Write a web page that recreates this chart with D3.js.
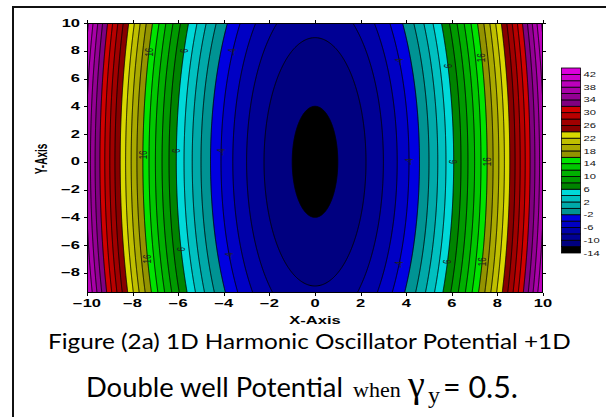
<!DOCTYPE html>
<html>
<head>
<meta charset="utf-8">
<script src="https://cdn.jsdelivr.net/npm/d3@7"></script>
<style>
  body { margin: 0; background: #ffffff; }
  svg { display: block; }
</style>
</head>
<body>
<svg id="chart" width="606" height="417"></svg>
<script>
// ---- Potential surface: V(x, y) = kx * x^2 + ky * y^2 + v0 ----
const potentialCoefficients = [0.5, 1 / 32];   // [kx, ky]
const potentialOffset = [-12.5];                 // v0 (well bottom)

// ---- Axes ----
const xDomain = [-10, 10];
const yDomain = [-9.45, 10];
const xTicks = [-10, -8, -6, -4, -2, 0, 2, 4, 6, 8, 10];
const yTicks = [-8, -6, -4, -2, 0, 2, 4, 6, 8, 10];

// ---- Contour levels (lower edge of each colour band) and band colours ----
const levels = [-14, -12, -10, -8, -6, -4, -2, 0, 2, 4, 6, 8, 10, 12, 14,
                16, 18, 20, 22, 24, 26, 28, 30, 32, 34, 36, 38, 40, 42];
const levelColors = [
  "#000000",                                             // -14 .. -12
  "#000080", "#000094", "#0000a8", "#0000c4", "#0000e0", // -12 .. -2
  "#009393", "#00a9a9", "#00c0c0", "#00d9d9",            // -2 .. 6
  "#008400", "#009a00", "#00b000", "#00c800", "#00e400", // 6 .. 16
  "#939300", "#a9a900", "#bfbf00", "#d8d800",            // 16 .. 24
  "#870000", "#a00000", "#b80000", "#d00000",            // 24 .. 32
  "#800080", "#930093", "#a800a8", "#bb00bb", "#cc00cc", "#dd00dd" // 32 .. 44
];
const colorbarRange = [-14, 44];
const colorbarTicks = [-14, -10, -6, -2, 2, 6, 10, 14, 18, 22, 26, 30, 34, 38, 42];

// ---- Inline contour labels: levels and the y positions where they sit ----
const contourLabelLevels = [16, 6, -4];
const contourLabelYLeft  = [[7.9, 0.5, -7.0], [8.0, 0.8, -6.3], [7.9, 0.7, -6.8]];
const contourLabelYRight = [[7.5, 0.0, -7.2], [6.9, 0.0, -7.2], [7.2, 0.0, -7.4]];

// ---- Caption ----
const captionLine1 = "Figure (2a) 1D Harmonic Oscillator Potential +1D";
const captionLine2 = ["Double well Potential", "when", "\u03B3", "y", "= 0.5."];

const [kx, ky] = potentialCoefficients;
const v0 = potentialOffset[0];
const V = (px, py) => kx * px * px + ky * py * py + v0;

const svg = d3.select("#chart");
const plot = { left: 87, right: 543, top: 23, bottom: 293 };
const x = d3.scaleLinear().domain(xDomain).range([plot.left, plot.right]);
const y = d3.scaleLinear().domain(yDomain).range([plot.bottom, plot.top]);

// Outer figure frame (left and top edges)
svg.append("path")
  .attr("d", "M13,417 V7 H606")
  .attr("fill", "none").attr("stroke", "#111").attr("stroke-width", 2);

// Sample the surface on a grid slightly larger than the plot window
const gx = [-10.6, 10.6], gy = [10.6, -10.1];
const nx = 424, ny = 416;
const values = new Float64Array(nx * ny);
for (let j = 0; j < ny; ++j) {
  const py = gy[0] + (j + 0.5) / ny * (gy[1] - gy[0]);
  for (let i = 0; i < nx; ++i) {
    const px = gx[0] + (i + 0.5) / nx * (gx[1] - gx[0]);
    values[j * nx + i] = V(px, py);
  }
}
const bands = d3.contours().size([nx, ny]).thresholds(levels)(values);
const gridProjection = d3.geoTransform({
  point(u, v) {
    this.stream.point(
      x(gx[0] + u / nx * (gx[1] - gx[0])),
      y(gy[0] + v / ny * (gy[1] - gy[0]))
    );
  }
});
const path = d3.geoPath(gridProjection);

svg.append("defs").append("clipPath").attr("id", "plot-clip")
  .append("rect")
  .attr("x", plot.left).attr("y", plot.top)
  .attr("width", plot.right - plot.left).attr("height", plot.bottom - plot.top);

const field = svg.append("g").attr("clip-path", "url(#plot-clip)");
field.selectAll("path.band")
  .data(bands)
  .join("path")
  .attr("class", "band")
  .attr("d", path)
  .attr("fill", d => levelColors[levels.indexOf(d.value)])
  .attr("stroke", "none");
field.selectAll("path.isoline")
  .data(bands.filter(d => d.value > levels[0]))
  .join("path")
  .attr("class", "isoline")
  .attr("d", path)
  .attr("fill", "none")
  .attr("stroke", "#000")
  .attr("stroke-width", 0.9);

// Inline contour labels placed on their isolines
function labelX(level, py) {
  return Math.sqrt((level - v0 - ky * py * py) / kx);
}
const labelData = [];
contourLabelLevels.forEach((lv, k) => {
  contourLabelYLeft[k].forEach(py => labelData.push({ lv, px: -labelX(lv, py), py }));
  contourLabelYRight[k].forEach(py => labelData.push({ lv, px: labelX(lv, py), py }));
});
field.selectAll("text.clabel")
  .data(labelData)
  .join("text")
  .attr("class", "clabel")
  .attr("transform", d => `translate(${x(d.px)},${y(d.py)}) scale(1.3,1) rotate(-90)`)
  .attr("text-anchor", "middle")
  .attr("dy", "0.35em")
  .attr("font-family", "Liberation Sans, Arial, sans-serif")
  .attr("font-size", 8)
  .attr("fill", "#202020")
  .text(d => d.lv < 0 ? "-" + Math.abs(d.lv) : d.lv);

// Plot frame
svg.append("rect")
  .attr("x", plot.left + 0.5).attr("y", plot.top + 0.5)
  .attr("width", plot.right - plot.left - 1).attr("height", plot.bottom - plot.top - 1)
  .attr("fill", "none").attr("stroke", "#000").attr("stroke-width", 1);

// Tick marks, drawn outward on all four sides
const ticks = svg.append("g").attr("stroke", "#000").attr("stroke-width", 1);
xTicks.forEach(t => {
  const px = Math.round(x(t)) + 0.5;
  ticks.append("line").attr("x1", px).attr("x2", px).attr("y1", plot.bottom).attr("y2", plot.bottom + 3);
  ticks.append("line").attr("x1", px).attr("x2", px).attr("y1", plot.top).attr("y2", plot.top - 3);
});
yTicks.forEach(t => {
  const py = Math.round(y(t)) + 0.5;
  ticks.append("line").attr("x1", plot.left).attr("x2", plot.left - 3).attr("y1", py).attr("y2", py);
  ticks.append("line").attr("x1", plot.right).attr("x2", plot.right + 3).attr("y1", py).attr("y2", py);
});

const fmt = t => (t < 0 ? "\u2212" + Math.abs(t) : String(t));
const axisFont = "Liberation Sans, Arial, sans-serif";
const stretch = 1.65;

svg.append("g").selectAll("text")
  .data(xTicks).join("text")
  .attr("transform", t => `translate(${x(t)},306.6) scale(${stretch},1)`)
  .attr("text-anchor", "middle")
  .attr("font-family", axisFont).attr("font-weight", "bold").attr("font-size", 10)
  .text(fmt);

svg.append("g").selectAll("text")
  .data(yTicks).join("text")
  .attr("transform", t => `translate(80,${y(t) + 3.6}) scale(${stretch},1)`)
  .attr("text-anchor", "end")
  .attr("font-family", axisFont).attr("font-weight", "bold").attr("font-size", 10)
  .text(fmt);

svg.append("text")
  .attr("transform", `translate(315,323.5) scale(${stretch},1)`)
  .attr("text-anchor", "middle")
  .attr("font-family", axisFont).attr("font-weight", "bold").attr("font-size", 10)
  .text("X-Axis");

svg.append("text")
  .attr("transform", `translate(46.5,159) scale(${stretch},1) rotate(-90)`)
  .attr("text-anchor", "middle")
  .attr("font-family", axisFont).attr("font-weight", "bold").attr("font-size", 10)
  .text("Y-Axis");

// Colour bar
const cb = d3.scaleLinear().domain(colorbarRange).range([253, 68]);
const cbX = 561, cbW = 19;
svg.append("g").selectAll("rect")
  .data(levels).join("rect")
  .attr("x", cbX + 0.5)
  .attr("y", d => cb(d + 2))
  .attr("width", cbW)
  .attr("height", d => cb(d) - cb(d + 2))
  .attr("fill", (d, i) => levelColors[i])
  .attr("stroke", "#000").attr("stroke-width", 0.8);

svg.append("g").selectAll("text")
  .data(colorbarTicks).join("text")
  .attr("transform", t => `translate(583.5,${cb(t) + 2.6}) scale(1.6,1)`)
  .attr("font-family", axisFont).attr("font-size", 7)
  .attr("fill", "#111")
  .text(t => (t < 0 ? "-" + Math.abs(t) : t));

// Caption
const capFont = "Lato, 'Open Sans', sans-serif";
function fitText(sel, width) {
  const w = sel.node().getComputedTextLength();
  const fs = parseFloat(sel.attr("font-size"));
  sel.attr("font-size", fs * width / w);
  return sel;
}
// First caption line: keep its height, widen it horizontally to the target span
const cap1 = svg.append("text")
  .attr("font-family", capFont).attr("font-size", 21.5).attr("fill", "#000")
  .text(captionLine1);
const cap1Scale = 523 / cap1.node().getComputedTextLength();
cap1.attr("transform", `translate(48,349) scale(${cap1Scale},1)`);

fitText(svg.append("text")
  .attr("x", 86).attr("y", 396.5)
  .attr("font-family", capFont).attr("font-size", 22).attr("fill", "#000")
  .text(captionLine2[0]), 257);

svg.append("text")
  .attr("x", 353).attr("y", 396.5)
  .attr("font-family", "Liberation Serif, Times New Roman, serif").attr("font-size", 22)
  .text(captionLine2[1]);

svg.append("text")
  .attr("x", 408).attr("y", 397)
  .attr("font-family", "Liberation Serif, Times New Roman, serif").attr("font-size", 38)
  .text(captionLine2[2]);

svg.append("text")
  .attr("x", 428).attr("y", 403)
  .attr("font-family", "Liberation Serif, Times New Roman, serif").attr("font-size", 24)
  .text(captionLine2[3]);

fitText(svg.append("text")
  .attr("x", 443).attr("y", 397.5)
  .attr("font-family", capFont).attr("font-size", 30).attr("fill", "#000")
  .text(captionLine2[4]), 75);
</script>
</body>
</html>
